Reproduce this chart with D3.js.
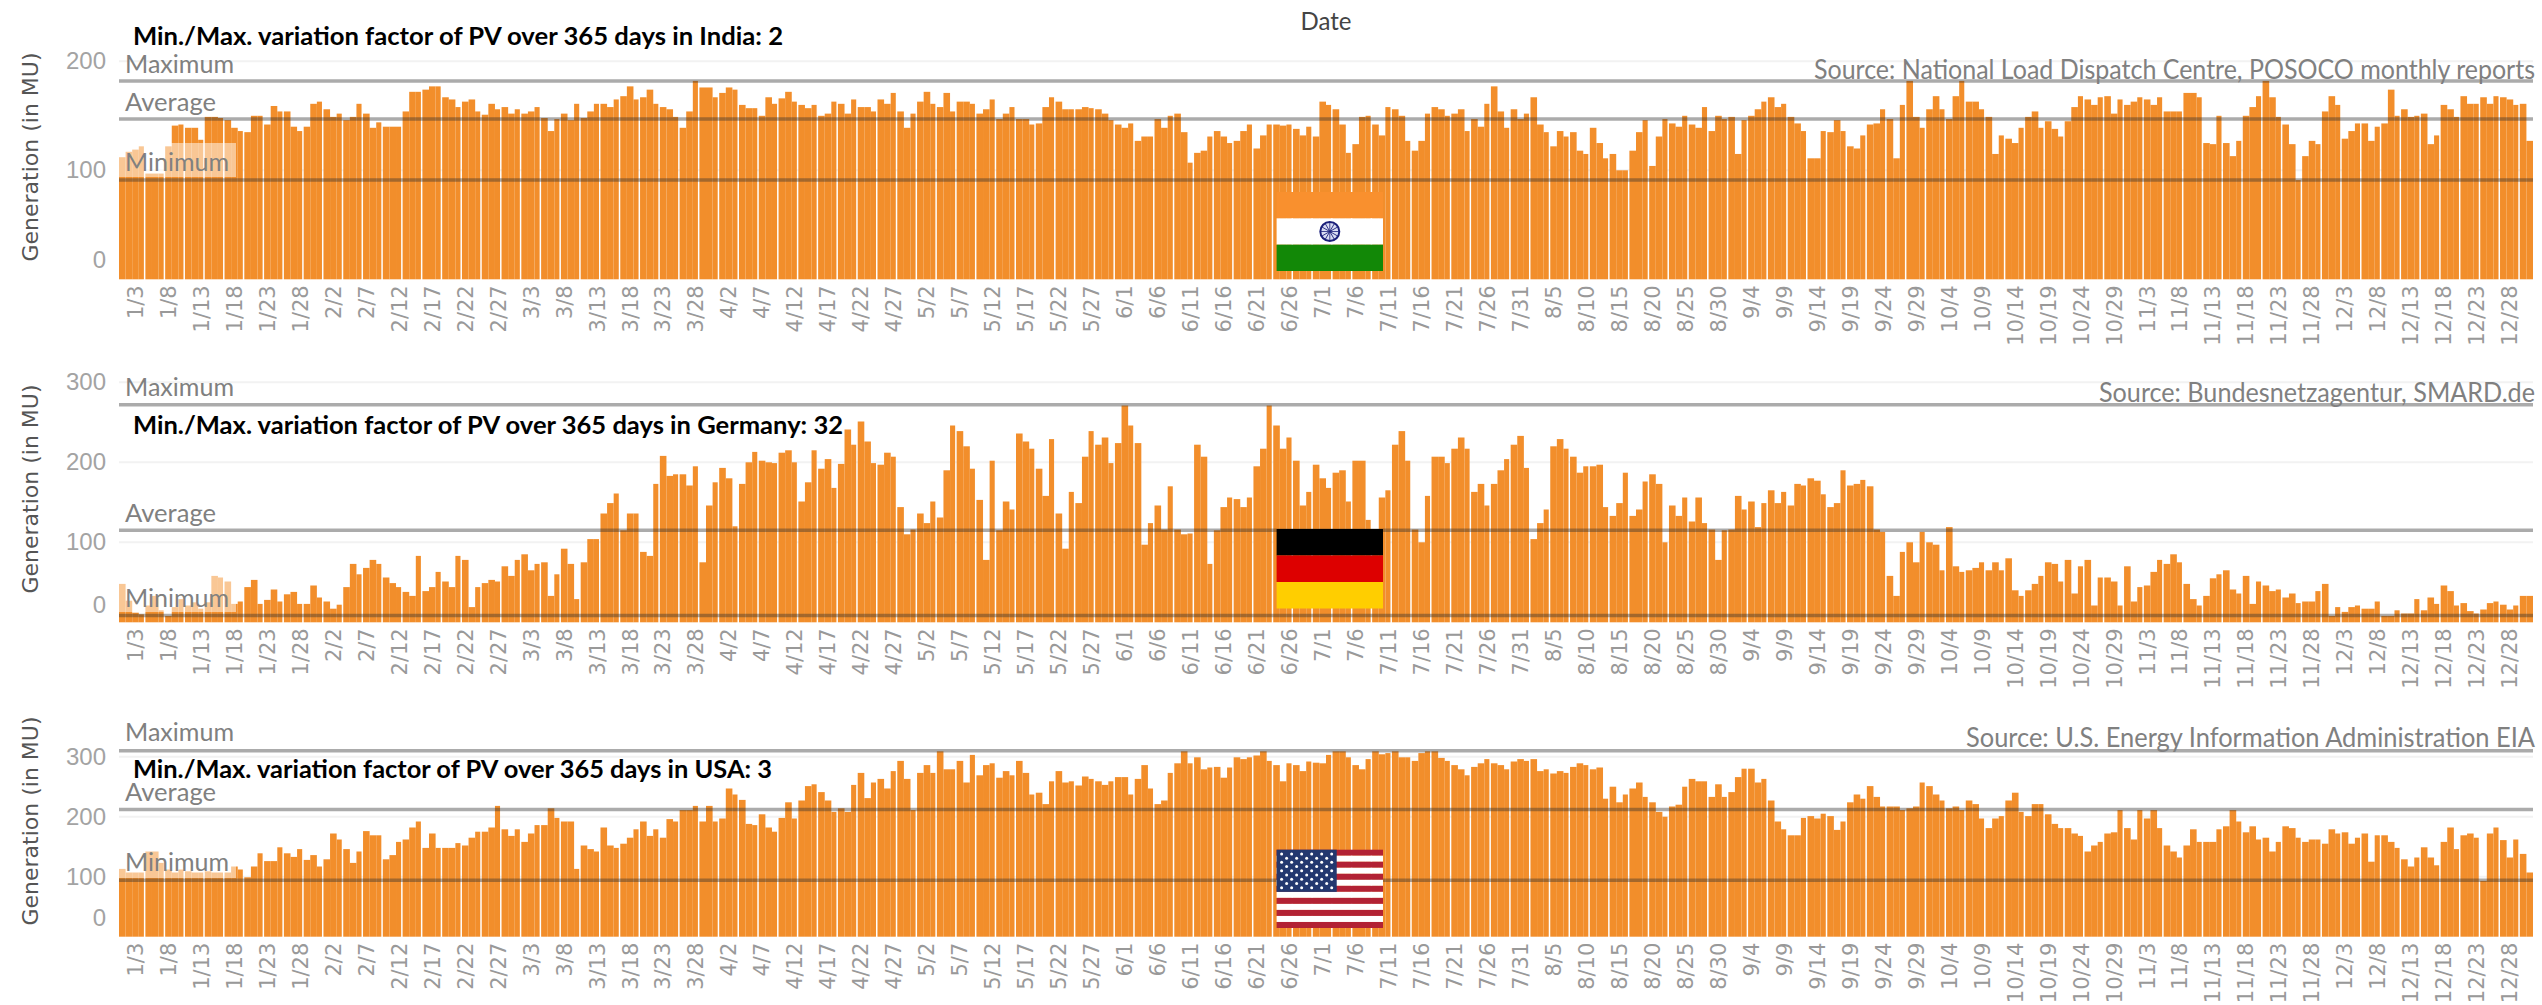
<!DOCTYPE html>
<html>
<head>
<meta charset="utf-8">
<script src="https://cdnjs.cloudflare.com/ajax/libs/d3/7.8.5/d3.min.js"></script>
<style>
  html, body { margin: 0; padding: 0; background: #fff; overflow: hidden; }
  svg { display: block; }
</style>
</head>
<body>
<div id="chart"></div>
<script>
// Daily generation, Jan 1 to Dec 31 (MU)
const indiaValues = [
  112,117,119,122,97,97,97,122,141,142,
  139,139,128,149,149,148,146,139,136,135,
  150,150,142,159,154,154,140,136,140,161,
  163,156,149,152,146,149,161,152,139,144,
  140,140,140,154,172,172,174,177,177,167,
  165,158,163,165,154,151,161,156,158,152,
  156,152,154,158,148,136,147,152,146,161,
  148,154,161,161,158,165,168,177,165,167,
  174,161,158,156,149,139,154,182,176,176,
  167,171,176,174,160,157,157,150,167,161,
  166,172,163,160,157,160,150,152,163,161,
  152,165,158,158,154,165,161,171,154,139,
  152,163,172,161,158,171,154,163,163,161,
  152,156,165,147,152,158,147,147,142,143,
  158,167,163,156,156,156,158,157,156,152,
  146,142,139,143,127,131,131,147,139,150,
  152,135,107,116,118,131,136,131,125,127,
  136,142,120,132,142,142,141,142,138,132,
  140,131,163,160,156,142,116,124,149,150,
  142,132,158,156,150,127,118,127,152,158,
  156,150,152,156,136,147,140,161,177,154,
  139,156,147,152,167,142,135,122,136,131,
  135,118,115,139,125,111,115,100,100,118,
  135,146,104,131,147,143,140,150,142,139,
  158,136,150,147,149,115,146,150,156,163,
  167,158,161,149,143,136,111,111,136,135,
  146,136,122,120,132,142,143,156,147,111,
  160,182,149,139,156,168,156,147,168,182,
  163,163,156,149,115,132,129,125,139,149,
  154,139,145,138,131,145,158,168,165,160,
  167,168,152,165,160,163,167,165,160,167,
  154,154,154,171,171,167,125,124,150,125,
  113,127,150,158,168,182,167,149,142,124,
  91,113,127,124,154,168,160,129,136,143,
  143,127,140,143,174,150,156,149,150,152,
  124,132,160,156,149,168,161,161,167,161,
  168,167,165,160,161,127
];

const germanyValues = [
  48,27,12,10,21,33,15,8,19,29,
  21,25,17,25,58,56,51,23,26,44,
  53,23,28,41,26,35,38,23,23,46,
  31,26,17,22,44,73,60,68,78,73,
  56,49,44,38,33,83,39,44,63,51,
  44,83,78,19,44,49,53,51,70,58,
  78,85,65,73,75,33,60,92,73,29,
  75,104,104,136,149,161,115,136,136,88,
  83,173,208,183,185,185,171,195,75,146,
  175,193,180,120,173,200,213,202,200,199,
  212,215,200,151,175,215,192,204,168,198,
  241,222,251,226,199,197,212,207,144,110,
  116,136,124,151,131,190,246,239,220,192,
  153,78,202,115,151,141,236,226,217,192,
  158,229,136,92,163,149,207,239,222,231,
  199,224,271,246,224,97,124,146,116,170,
  116,110,111,222,207,73,115,144,156,154,
  144,156,195,217,271,246,217,231,202,146,
  163,197,180,168,187,190,151,202,202,128,
  115,156,165,222,239,202,116,100,158,207,
  207,199,217,231,217,163,173,146,173,190,
  204,222,233,193,104,124,141,220,229,217,
  207,187,195,195,197,144,133,149,187,133,
  141,176,185,173,100,146,133,156,126,156,
  124,116,78,115,116,158,141,151,119,149,
  165,149,163,146,173,171,180,177,160,144,
  149,190,171,173,178,170,116,113,58,33,
  88,100,75,113,100,97,65,119,70,63,
  65,68,75,65,75,65,80,40,33,40,
  48,58,75,73,51,78,36,70,78,21,
  56,56,51,21,70,26,44,46,63,78,
  73,85,75,48,29,21,33,55,60,65,
  41,36,58,23,51,46,39,41,31,36,
  24,26,26,39,48,8,19,13,19,21,
  17,17,26,8,8,15,11,11,29,15,
  31,23,46,39,21,24,14,11,16,24,
  26,22,16,21,33,33
];

const usaValues = [
  113,107,107,107,142,142,123,112,107,112,
  109,107,107,109,107,107,107,117,112,99,
  117,139,126,126,149,139,133,146,128,136,
  117,129,172,162,146,123,142,176,169,169,
  129,136,158,162,182,192,148,172,148,148,
  148,156,152,165,175,175,182,218,179,168,
  179,158,172,186,186,214,198,192,192,113,
  152,146,142,182,152,148,155,165,179,192,
  168,179,165,196,192,211,211,218,192,218,
  192,197,247,237,228,188,186,204,182,175,
  198,224,197,227,251,254,241,227,208,214,
  208,253,273,231,257,263,247,276,293,263,
  211,273,286,273,309,279,279,293,257,303,
  269,286,289,265,276,269,293,273,237,240,
  221,259,276,257,259,252,267,263,259,253,
  259,266,266,237,263,286,247,221,227,273,
  289,309,289,299,279,282,283,265,282,299,
  296,299,302,309,293,286,259,289,286,276,
  292,290,289,303,309,309,299,286,279,296,
  309,304,306,309,299,299,293,306,309,309,
  298,293,286,279,269,283,289,296,289,286,
  279,292,296,293,296,276,279,272,276,273,
  283,289,286,279,282,230,250,224,237,247,
  257,233,224,208,200,217,220,250,263,259,
  259,233,254,233,241,266,280,280,257,263,
  227,192,179,169,169,198,201,197,205,201,
  178,192,224,237,230,251,233,217,217,217,
  211,214,217,257,251,237,227,214,217,211,
  227,221,197,181,197,201,227,240,208,201,
  221,221,204,188,181,181,172,168,142,152,
  158,172,174,211,181,162,211,197,211,181,
  152,142,132,152,179,158,158,158,179,184,
  211,192,174,184,162,165,142,158,184,181,
  165,158,162,162,155,179,172,174,155,165,
  172,125,169,169,158,148,129,117,132,149,
  132,119,158,182,146,169,172,165,93,172,
  182,161,132,162,138,107
];

const tickLabels = [
  "1/3","1/8","1/13","1/18","1/23","1/28","2/2","2/7","2/12","2/17","2/22","2/27",
  "3/3","3/8","3/13","3/18","3/23","3/28","4/2","4/7","4/12","4/17","4/22","4/27",
  "5/2","5/7","5/12","5/17","5/22","5/27","6/1","6/6","6/11","6/16","6/21","6/26",
  "7/1","7/6","7/11","7/16","7/21","7/26","7/31","8/5","8/10","8/15","8/20","8/25","8/30",
  "9/4","9/9","9/14","9/19","9/24","9/29","10/4","10/9","10/14","10/19","10/24","10/29",
  "11/3","11/8","11/13","11/18","11/23","11/28","12/3","12/8","12/13","12/18","12/23","12/28"
];

// Maximum, average and minimum reference lines
const indiaRefs = [182, 147, 91];
const germanyRefs = [272, 115, 8.5];
const usaRefs = [310, 212, 94];
const refNames = ["Maximum", "Average", "Minimum"];

const indiaTicks = [0, 100, 200];
const germanyTicks = [0, 100, 200, 300];
const usaTicks = [0, 100, 200, 300];

const width = 2542;
const height = 1005;
const left = 119;
const right = 2533;
const barColor = "#f28e2b";
const softFont = "Lato, 'Open Sans', sans-serif";

const panels = [
  {
    values: indiaValues, refs: indiaRefs, ticks: indiaTicks, y0: 279.3, pxPerUnit: 1.09, zeroShift: -19,
    title: "Min./Max. variation factor of PV over 365 days in India: 2", titleY: 36, titleW: 650,
    source: "Source: National Load Dispatch Centre, POSOCO monthly reports", sourceY: 70, sourceW: 721,
    refLabelY: [64, 102, 162], boxY: [143, 177], axisTitleY: 157, flag: "india", flagY: [192, 271]
  },
  {
    values: germanyValues, refs: germanyRefs, ticks: germanyTicks, y0: 622.3, pxPerUnit: 0.8, zeroShift: -17,
    title: "Min./Max. variation factor of PV over 365 days in Germany: 32", titleY: 425, titleW: 710,
    source: "Source: Bundesnetzagentur, SMARD.de", sourceY: 393, sourceW: 436,
    refLabelY: [387, 513, 598], boxY: [575, 612], axisTitleY: 489, flag: "germany", flagY: [529, 608.5]
  },
  {
    values: usaValues, refs: usaRefs, ticks: usaTicks, y0: 936.7, pxPerUnit: 0.6, zeroShift: -19,
    title: "Min./Max. variation factor of PV over 365 days in USA: 3", titleY: 769, titleW: 639,
    source: "Source: U.S. Energy Information Administration EIA", sourceY: 738, sourceW: 569,
    refLabelY: [732, 792, 862], boxY: [850, 878], axisTitleY: 821, flag: "usa", flagY: [849.7, 928]
  }
];

const svg = d3.select("#chart")
  .append("svg")
  .attr("width", width)
  .attr("height", height);

// One band per day of the year, labelled like the tick labels
const formatDay = d3.timeFormat("%-m/%-d");
const days = d3.timeDay.range(new Date(2020, 0, 1), new Date(2021, 0, 1)).map(formatDay);

const x = d3.scaleBand()
  .domain(days)
  .range([left, right]);

svg.append("text")
  .attr("x", 1326)
  .attr("y", 21)
  .attr("dy", "0.35em")
  .attr("textLength", 51)
  .attr("lengthAdjust", "spacingAndGlyphs")
  .style("text-anchor", "middle")
  .style("font-family", softFont)
  .style("font-size", "25px")
  .style("fill", "#444")
  .text("Date");

panels.forEach(function (p) {
  const g = svg.append("g");

  const top = d3.max(p.ticks);
  const y = d3.scaleLinear()
    .domain([0, top])
    .range([p.y0, p.y0 - top * p.pxPerUnit]);

  // Light grid lines
  g.append("g")
    .selectAll("line")
    .data(p.ticks.filter(d => d > 0))
    .enter()
    .append("line")
    .attr("x1", left)
    .attr("x2", right)
    .attr("y1", d => y(d))
    .attr("y2", d => y(d))
    .attr("stroke", "#f2f2f2")
    .attr("stroke-width", 2);

  // Bars: the source shows a thin white gap after every third day
  g.append("g")
    .selectAll("rect")
    .data(p.values)
    .enter()
    .append("rect")
    .attr("x", (d, i) => x(days[i]))
    .attr("y", d => y(d))
    .attr("width", (d, i) => (i > 0 && i % 3 === 0) ? x.bandwidth() - 1.5 : x.bandwidth())
    .attr("height", d => y(0) - y(d))
    .attr("fill", barColor);

  // Pale box behind the Minimum label
  g.append("rect")
    .attr("x", left)
    .attr("y", p.boxY[0])
    .attr("width", 117)
    .attr("height", p.boxY[1] - p.boxY[0])
    .attr("fill", "#fff")
    .attr("opacity", 0.5);

  // Maximum, average and minimum lines
  g.append("g")
    .selectAll("line")
    .data(p.refs)
    .enter()
    .append("line")
    .attr("x1", left)
    .attr("x2", right)
    .attr("y1", d => y(d))
    .attr("y2", d => y(d))
    .attr("stroke", "#2e2e2e")
    .attr("stroke-opacity", 0.4)
    .attr("stroke-width", 3.5);

  g.append("g")
    .selectAll("text")
    .data(refNames)
    .enter()
    .append("text")
    .attr("x", 125)
    .attr("y", (d, i) => p.refLabelY[i])
    .attr("dy", "0.35em")
    .attr("textLength", (d, i) => [109, 91, 104][i])
    .attr("lengthAdjust", "spacingAndGlyphs")
    .style("font-family", softFont)
    .style("font-size", "25px")
    .style("fill", "#808080")
    .text(d => d);

  // Y axis
  const yAxis = g.append("g")
    .attr("transform", "translate(106,0)")
    .call(d3.axisLeft(y).tickValues(p.ticks).tickSize(0).tickPadding(0));
  yAxis.select(".domain").remove();
  yAxis.selectAll("text")
    .style("font-family", "'Liberation Sans', sans-serif")
    .style("font-size", "24px")
    .style("fill", "#a3a3a3");
  yAxis.selectAll(".tick text")
    .filter(d => d === 0)
    .attr("transform", `translate(0,${p.zeroShift})`);

  g.append("text")
    .attr("transform", `translate(31,${p.axisTitleY}) rotate(-90)`)
    .attr("dy", "0.35em")
    .attr("textLength", 209)
    .attr("lengthAdjust", "spacingAndGlyphs")
    .style("text-anchor", "middle")
    .style("font-family", "'DejaVu Sans', sans-serif")
    .style("font-size", "21px")
    .style("fill", "#555")
    .text("Generation (in MU)");

  // X axis with day labels
  const xAxis = g.append("g")
    .attr("transform", `translate(0,${y(0)})`)
    .call(d3.axisBottom(x).tickValues(tickLabels).tickSize(0).tickPadding(0));
  xAxis.select(".domain").remove();
  xAxis.selectAll("text")
    .attr("transform", "rotate(-90)")
    .attr("x", -6)
    .attr("y", 0)
    .attr("dy", "0.35em")
    .style("text-anchor", "end")
    .style("font-family", "'DejaVu Sans', sans-serif")
    .style("font-size", "21px")
    .style("fill", "#999");

  drawFlag(g, p.flag, p.flagY[0], p.flagY[1]);

  g.append("text")
    .attr("x", 133)
    .attr("y", p.titleY)
    .attr("dy", "0.35em")
    .attr("textLength", p.titleW)
    .attr("lengthAdjust", "spacingAndGlyphs")
    .style("font-family", softFont)
    .style("font-weight", 700)
    .style("font-size", "25px")
    .style("fill", "#000")
    .text(p.title);

  g.append("text")
    .attr("x", 2535)
    .attr("y", p.sourceY)
    .attr("dy", "0.35em")
    .attr("textLength", p.sourceW)
    .attr("lengthAdjust", "spacingAndGlyphs")
    .style("text-anchor", "end")
    .style("font-family", softFont)
    .style("font-size", "26px")
    .style("fill", "#808080")
    .text(p.source);
});

// Flags sit over the middle of each panel
function drawFlag(g, name, y1, y2) {
  const x1 = 1276.6;
  const x2 = 1383;
  const w = x2 - x1;
  const h = y2 - y1;
  const flag = g.append("g");

  function stripe(from, to, color) {
    flag.append("rect")
      .attr("x", x1)
      .attr("y", y1 + h * from)
      .attr("width", w)
      .attr("height", h * (to - from))
      .attr("fill", color);
  }

  if (name === "india") {
    stripe(0, 1 / 3, "#f9902e");
    stripe(1 / 3, 2 / 3, "#fff");
    stripe(2 / 3, 1, "#128807");
    const wheel = flag.append("g")
      .attr("transform", `translate(${x1 + w / 2},${y1 + h / 2})`);
    wheel.append("circle")
      .attr("r", 9.5)
      .attr("fill", "#d9dcf2")
      .attr("stroke", "#1b1f7a")
      .attr("stroke-width", 2);
    d3.range(12).forEach(function (i) {
      wheel.append("line")
        .attr("x2", 9)
        .attr("transform", `rotate(${i * 30})`)
        .attr("stroke", "#1b1f7a")
        .attr("stroke-width", 0.8);
    });
  } else if (name === "germany") {
    stripe(0, 1 / 3, "#000");
    stripe(1 / 3, 2 / 3, "#dd0000");
    stripe(2 / 3, 1, "#ffce00");
  } else {
    d3.range(13).forEach(function (i) {
      stripe(i / 13, (i + 1) / 13, i % 2 === 0 ? "#b22234" : "#fff");
    });
    const cw = w * 0.565;
    const ch = h * 7 / 13;
    flag.append("rect")
      .attr("x", x1)
      .attr("y", y1)
      .attr("width", cw)
      .attr("height", ch)
      .attr("fill", "#23386f");
    // 9 alternating rows of 6 and 5 stars
    d3.range(9).forEach(function (row) {
      const count = row % 2 === 0 ? 6 : 5;
      d3.range(count).forEach(function (col) {
        flag.append("circle")
          .attr("cx", x1 + cw * (col + (row % 2 === 0 ? 0.5 : 1)) / 6)
          .attr("cy", y1 + ch * (row + 1) / 10)
          .attr("r", 1.5)
          .attr("fill", "#fff");
      });
    });
  }
}
</script>
</body>
</html>
